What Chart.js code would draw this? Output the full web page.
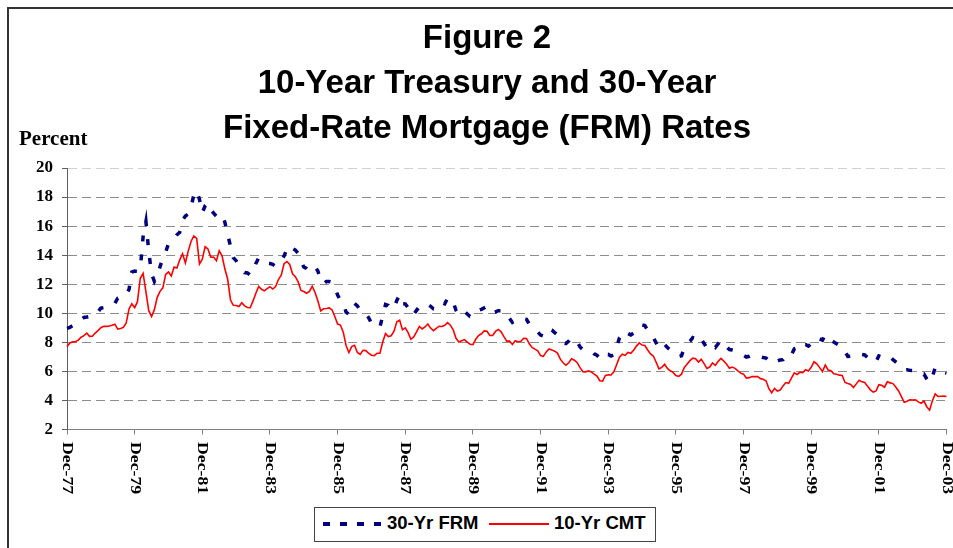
<!DOCTYPE html>
<html><head><meta charset="utf-8">
<script src="https://cdn.jsdelivr.net/npm/chart.js@4"></script>
<style>
html,body{margin:0;padding:0;background:#fff;}
#wrap{position:relative;width:953px;height:548px;overflow:hidden;background:#fff;}
#frame{position:absolute;left:7px;top:7px;width:980px;height:600px;border:2px solid #333;box-sizing:border-box;}
#chart{position:absolute;left:0;top:0;}
#title{position:absolute;left:0;top:14px;width:974px;text-align:center;font:bold 33px 'Liberation Sans',Arial,sans-serif;line-height:45px;color:#000;}
#ylab{position:absolute;left:19px;top:128px;font:bold 21px 'Liberation Serif','Times New Roman',serif;line-height:21px;color:#000;}
#legend{position:absolute;left:314px;top:507px;width:342px;height:35px;border:1px solid #444;box-sizing:border-box;background:#fff;}
.lt{position:absolute;top:513px;font:bold 18.5px 'Liberation Sans',Arial,sans-serif;line-height:20px;color:#000;white-space:nowrap;}
</style></head>
<body>
<div id="wrap">
  <div id="frame"></div>
  <canvas id="chart" width="953" height="548"></canvas>
  <div id="title">Figure 2<br>10-Year Treasury and 30-Year<br>Fixed-Rate Mortgage (FRM) Rates</div>
  <div id="ylab">Percent</div>
  <div id="legend"></div>
  <svg style="position:absolute;left:323px;top:520px" width="60" height="8"><line x1="0" y1="4" x2="60" y2="4" stroke="#000080" stroke-width="4" stroke-dasharray="7 10"/></svg>
  <div class="lt" style="left:387px">30-Yr FRM</div>
  <div style="position:absolute;left:489px;top:523px;width:60px;height:2px;background:#ff0000"></div>
  <div class="lt" style="left:554px">10-Yr CMT</div>
</div>
<script>
// Tick labels on the x axis (every 24 months starting Dec-77)
const tickLabels = ['Dec-77','Dec-79','Dec-81','Dec-83','Dec-85','Dec-87','Dec-89','Dec-91','Dec-93','Dec-95','Dec-97','Dec-99','Dec-01','Dec-03'];
const TICK_STEP = 24;
const monthNames = ['Jan','Feb','Mar','Apr','May','Jun','Jul','Aug','Sep','Oct','Nov','Dec'];

// 30-year fixed-rate mortgage, monthly, Dec-77 .. Dec-03 (percent)
const frm = [
  8.96,
  9.02, 9.15, 9.20, 9.36, 9.57, 9.71, 9.74, 9.78, 9.76, 9.86, 10.11, 10.35,
  10.39, 10.41, 10.43, 10.50, 10.69, 11.04, 11.09, 11.09, 11.30, 11.64, 12.83, 12.90,
  12.88, 13.04, 15.28, 16.32, 14.26, 12.71, 12.19, 12.56, 13.20, 13.79, 14.21, 14.79,
  14.90, 15.13, 15.40, 15.58, 16.40, 16.70, 16.83, 17.29, 18.16, 18.45, 17.83, 16.92,
  17.40, 17.60, 17.16, 16.89, 16.68, 16.70, 16.82, 16.27, 15.43, 14.61, 13.83, 13.62,
  13.25, 13.04, 12.80, 12.78, 12.63, 12.87, 13.42, 13.81, 13.73, 13.54, 13.44, 13.42,
  13.37, 13.23, 13.39, 13.65, 13.94, 14.42, 14.67, 14.47, 14.35, 14.13, 13.64, 13.18,
  13.08, 12.92, 13.17, 13.20, 12.91, 12.22, 12.03, 12.19, 12.19, 12.14, 11.78, 11.26,
  10.88, 10.71, 10.08, 9.94, 10.14, 10.68, 10.51, 10.20, 10.01, 9.97, 9.70, 9.31,
  9.20, 9.08, 9.04, 9.83, 10.60, 10.54, 10.28, 10.33, 10.89, 11.26, 10.65, 10.64,
  10.38, 9.89, 9.93, 10.20, 10.46, 10.46, 10.43, 10.60, 10.48, 10.30, 10.27, 10.61,
  10.73, 10.65, 11.03, 11.05, 10.77, 10.20, 9.88, 9.99, 10.13, 9.95, 9.77, 9.74,
  9.90, 10.20, 10.27, 10.37, 10.48, 10.16, 10.04, 10.10, 10.18, 10.18, 10.01, 9.67,
  9.64, 9.37, 9.50, 9.49, 9.47, 9.62, 9.58, 9.24, 9.01, 8.86, 8.71, 8.50,
  8.43, 8.76, 8.94, 8.85, 8.67, 8.51, 8.13, 7.98, 7.92, 8.09, 8.31, 8.22,
  8.02, 7.68, 7.50, 7.47, 7.47, 7.42, 7.21, 7.11, 6.92, 6.83, 7.16, 7.17,
  7.06, 7.15, 7.68, 8.32, 8.60, 8.40, 8.61, 8.51, 8.64, 8.93, 9.17, 9.20,
  9.15, 8.83, 8.46, 8.32, 7.96, 7.57, 7.61, 7.86, 7.64, 7.48, 7.38, 7.20,
  7.03, 7.08, 7.62, 7.93, 8.07, 8.32, 8.25, 8.00, 8.23, 7.92, 7.62, 7.60,
  7.82, 7.65, 7.90, 8.14, 7.94, 7.69, 7.50, 7.48, 7.43, 7.29, 7.21, 7.10,
  6.99, 7.04, 7.13, 7.14, 7.14, 7.00, 6.95, 6.92, 6.72, 6.71, 6.87, 6.72,
  6.79, 6.81, 7.04, 6.92, 7.15, 7.55, 7.63, 7.94, 7.82, 7.85, 7.74, 7.91,
  8.21, 8.33, 8.24, 8.15, 8.52, 8.29, 8.15, 8.03, 7.91, 7.80, 7.75, 7.38,
  7.03, 7.05, 6.95, 7.08, 7.15, 7.16, 7.13, 6.95, 6.82, 6.62, 6.66, 7.07,
  7.00, 6.89, 7.01, 6.99, 6.81, 6.65, 6.49, 6.29, 6.09, 6.11, 6.07, 6.05,
  5.92, 5.84, 5.75, 5.81, 5.48, 5.23, 5.63, 6.26, 6.15, 5.95, 5.93, 5.88
];

// 10-year constant maturity Treasury, monthly, Dec-77 .. Dec-03 (percent)
const cmt = [
  7.69,
  7.96, 8.03, 8.04, 8.15, 8.35, 8.46, 8.64, 8.41, 8.42, 8.64, 8.81, 9.01,
  9.10, 9.10, 9.12, 9.18, 9.25, 8.91, 8.95, 9.03, 9.33, 10.30, 10.65, 10.39,
  10.80, 12.41, 12.75, 11.47, 10.18, 9.78, 10.25, 11.10, 11.51, 11.75, 12.68, 12.84,
  12.57, 13.19, 13.12, 13.68, 14.10, 13.47, 14.28, 14.94, 15.32, 15.15, 13.39, 13.72,
  14.59, 14.43, 13.86, 13.87, 13.62, 14.30, 13.95, 13.06, 12.34, 10.91, 10.55, 10.54,
  10.46, 10.72, 10.51, 10.40, 10.38, 10.85, 11.38, 11.85, 11.65, 11.54, 11.69, 11.83,
  11.67, 11.84, 12.32, 12.63, 13.41, 13.56, 13.36, 12.72, 12.52, 12.16, 11.57, 11.50,
  11.38, 11.51, 11.86, 11.43, 10.85, 10.16, 10.31, 10.33, 10.37, 10.24, 9.78, 9.26,
  9.19, 8.70, 7.78, 7.30, 7.71, 7.80, 7.30, 7.17, 7.45, 7.43, 7.25, 7.11,
  7.08, 7.25, 7.25, 8.02, 8.61, 8.40, 8.45, 8.76, 9.42, 9.52, 8.86, 8.99,
  8.67, 8.21, 8.37, 8.72, 9.09, 8.92, 9.06, 9.26, 8.98, 8.80, 8.96, 9.11,
  9.09, 9.17, 9.36, 9.18, 8.86, 8.28, 8.02, 8.11, 8.19, 8.01, 7.87, 7.84,
  8.21, 8.47, 8.59, 8.79, 8.76, 8.48, 8.47, 8.75, 8.89, 8.72, 8.39, 8.08,
  8.09, 7.85, 8.11, 8.04, 8.07, 8.28, 8.27, 7.90, 7.65, 7.53, 7.42, 7.09,
  7.03, 7.34, 7.54, 7.48, 7.39, 7.26, 6.84, 6.59, 6.42, 6.59, 6.87, 6.77,
  6.60, 6.26, 5.98, 5.97, 6.04, 5.96, 5.81, 5.68, 5.36, 5.33, 5.72, 5.77,
  5.75, 5.97, 6.48, 6.97, 7.18, 7.10, 7.30, 7.24, 7.46, 7.74, 7.96, 7.81,
  7.78, 7.47, 7.20, 7.06, 6.63, 6.17, 6.28, 6.49, 6.20, 6.04, 5.93, 5.71,
  5.65, 5.81, 6.27, 6.51, 6.74, 6.91, 6.87, 6.64, 6.83, 6.53, 6.20, 6.30,
  6.58, 6.42, 6.69, 6.89, 6.71, 6.49, 6.22, 6.30, 6.21, 6.03, 5.88, 5.81,
  5.54, 5.57, 5.65, 5.64, 5.65, 5.50, 5.46, 5.34, 4.81, 4.53, 4.83, 4.65,
  4.72, 5.00, 5.23, 5.18, 5.54, 5.90, 5.79, 5.94, 5.92, 6.11, 6.03, 6.28,
  6.66, 6.52, 6.26, 5.99, 6.44, 6.10, 6.05, 5.83, 5.80, 5.74, 5.72, 5.24,
  5.16, 5.10, 4.89, 5.14, 5.39, 5.28, 5.24, 4.97, 4.73, 4.57, 4.65, 5.09,
  5.04, 4.91, 5.28, 5.21, 5.16, 4.93, 4.65, 4.26, 3.87, 3.94, 4.05, 4.03,
  4.05, 3.90, 3.81, 3.96, 3.57, 3.33, 3.98, 4.45, 4.27, 4.29, 4.30, 4.27
];

// Month category labels Dec-77 .. Dec-03
const months = [];
for (let y = 1977, m = 11; months.length < frm.length; ) {
  months.push(monthNames[m] + '-' + String(y % 100).padStart(2, '0'));
  m++; if (m === 12) { m = 0; y++; }
}

const xLabelPlugin = {
  id: 'xLabels',
  afterDraw(chart) {
    const xs = chart.scales.x, ctx = chart.ctx, top = chart.chartArea.bottom + 12.5;
    ctx.save();
    ctx.fillStyle = '#000';
    ctx.font = "bold 15px 'Liberation Serif', 'Times New Roman', serif";
    ctx.textAlign = 'left';
    ctx.textBaseline = 'middle';
    tickLabels.forEach((lab, i) => {
      const x = xs.getPixelForValue(i * TICK_STEP);
      ctx.save();
      ctx.translate(x, top);
      ctx.rotate(Math.PI / 2);
      ctx.scale(1.18, 1);
      ctx.fillText(lab, 0, 0);
      ctx.restore();
    });
    ctx.restore();
  }
};

new Chart(document.getElementById('chart'), {
  type: 'line',
  data: {
    labels: months,
    datasets: [
      { label: '30-Yr FRM', data: frm, borderColor: '#000080', borderWidth: 3.5, borderDash: [6, 13],
        pointRadius: 0, fill: false, tension: 0 },
      { label: '10-Yr CMT', data: cmt, borderColor: '#ff0000', borderWidth: 1.6,
        pointRadius: 0, fill: false, tension: 0 }
    ]
  },
  options: {
    responsive: false,
    devicePixelRatio: 1,
    animation: false,
    events: [],
    layout: { padding: { top: 168, left: 0, right: 6.5, bottom: 0 } },
    plugins: { legend: { display: false }, title: { display: false }, tooltip: { enabled: false } },
    scales: {
      x: {
        type: 'category',
        offset: false,
        ticks: { display: false, autoSkip: false },
        grid: {
          display: true, drawOnChartArea: false, drawTicks: true, tickLength: 5,
          color: (c) => (c.index % TICK_STEP === 0 ? '#808080' : 'rgba(0,0,0,0)')
        },
        border: { display: true, color: '#808080', width: 1 },
        afterFit: (s) => { s.height = 118.5; }
      },
      y: {
        min: 2, max: 20,
        ticks: { stepSize: 2, padding: 9, color: '#000',
          font: { family: "'Liberation Serif', 'Times New Roman', serif", size: 17, weight: 'bold' } },
        grid: {
          drawTicks: true, tickLength: 5,
          color: (c) => (c.tick && c.tick.value === 20 ? '#d0d0d0' : '#8c8c8c'),
          tickColor: '#606060'
        },
        border: { display: true, color: '#606060', width: 1, dash: [9, 5] },
        afterFit: (s) => { s.width = 67; }
      }
    }
  },
  plugins: [xLabelPlugin]
});
</script>
</body></html>
